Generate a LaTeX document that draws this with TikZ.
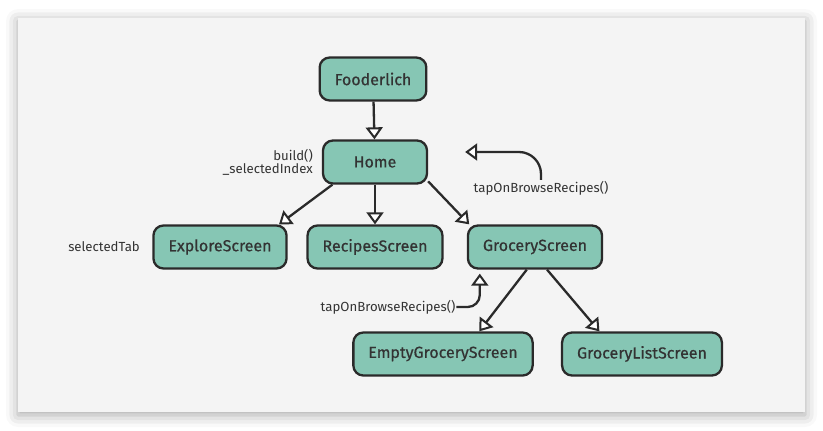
\documentclass[tikz,border=0pt]{standalone}
\usepackage{fontspec}
\setmainfont{Fira Sans}
\newfontfamily\screenfont{Fira Sans}[FakeBold=0.6]
\usetikzlibrary{arrows.meta, positioning, calc, shadows.blur}
\definecolor{panelgray}{HTML}{F4F4F4}
\definecolor{screengreen}{HTML}{86C6B4}
\definecolor{inkdark}{HTML}{2A2A2A}
\definecolor{textdark}{HTML}{333333}

\begin{document}
\begin{tikzpicture}[x=1pt,y=-1pt,
  screen/.style={draw=inkdark, fill=screengreen, line width=2.3pt, rounded corners=10pt,
    minimum width=104pt, minimum height=43pt, inner xsep=15pt, text=textdark,
    font=\screenfont\fontsize{16}{18}\selectfont},
  note/.style={text=textdark, font=\fontsize{13.2}{15}\selectfont, inner sep=1pt},
  flow/.style={draw=inkdark, line width=2.3pt,
    -{Triangle[fill=white, length=12pt, width=17pt, line width=2pt]}}]
% Panel
\useasboundingbox (0,0) rectangle (823,431);
\fill[panelgray, blur shadow={shadow xshift=0pt, shadow yshift=-3pt, shadow blur radius=12pt, shadow opacity=35}]
  (18,18) rectangle (805,412);

% Root and home
\node[screen] (root) at (373,79) {Fooderlich};
\node[screen] (home) at (375,162) {Home};
\node[note, anchor=east, align=right] (homenote) at (314,162) {build()\\[-2pt]\_selectedIndex};

% Tabs
\node[screen] (explore) at (220,247) {ExploreScreen};
\node[screen] (recipes) at (375,247) {RecipesScreen};
\node[screen] (grocery) at (535,247) {GroceryScreen};
\node[note, anchor=east] (tabnote) at (141,247) {selectedTab};

% Grocery children
\node[screen] (empty) at (443,354) {EmptyGroceryScreen};
\node[screen] (list) at (642,354) {GroceryListScreen};

% Callbacks
\node[note] (taptop) at (541,188) {tapOnBrowseRecipes()};
\node[note] (tapbot) at (388,307) {tapOnBrowseRecipes()};
\coordinate (hometip) at ($(home.east)+(37,-10)$);
\coordinate (grocerytip) at ($(grocery.south west)+(13,4)$);

% Arrows
\draw[flow] (root) -- (home);
\draw[flow] (home.208) -- (explore.21);
\draw[flow] (home) -- (recipes);
\draw[flow] (home.-20) -- (grocery.161);
\draw[flow] (grocery.-110) -- (empty.32);
\draw[flow] (grocery.-62) -- (list.152);
\draw[flow, rounded corners=22pt] (taptop.north) |- (hometip);
\draw[flow, rounded corners=12pt] (tapbot.east) -| (grocerytip);
\end{tikzpicture}
\end{document}
